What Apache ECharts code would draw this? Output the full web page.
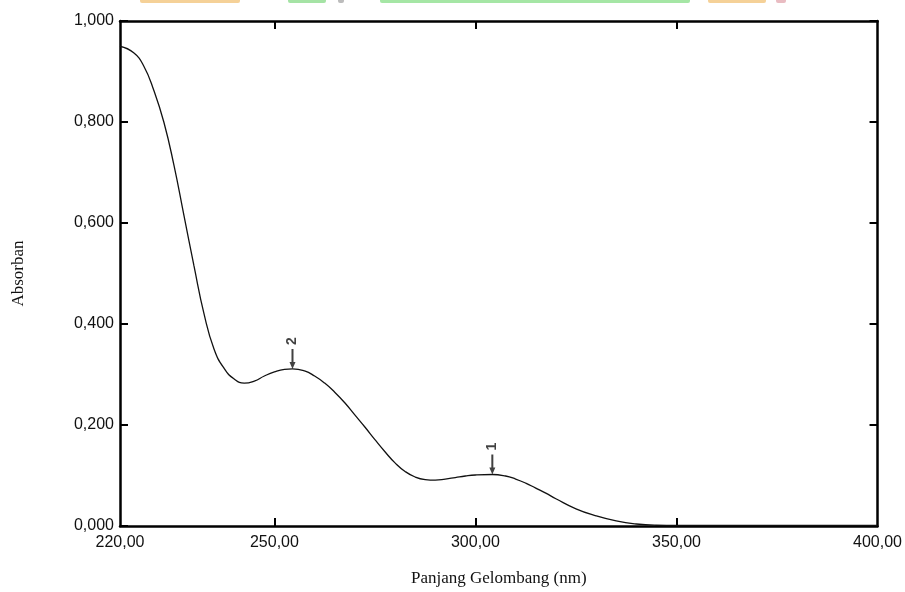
<!DOCTYPE html>
<html>
<head>
<meta charset="utf-8">
<script src="https://cdn.jsdelivr.net/npm/echarts@6/dist/echarts.min.js"></script>
<style>
  html, body { margin: 0; padding: 0; background: #fff; }
  #chart { width: 905px; height: 592px; }
</style>
</head>
<body>
<div id="chart"></div>
<script>
// UV-Vis absorption spectrum: wavelength (nm) vs absorbance
const wavelength = [211.6, 215, 217.5, 220, 222.5, 225, 227.5, 230, 232.5, 235,
  237.5, 240, 242.5, 245, 247.5, 250, 252.5, 254.5, 257.5, 260,
  262.5, 265, 267.5, 270, 272.5, 275, 277.5, 280, 282.5, 285,
  287.5, 290, 292.5, 295, 297.5, 300, 304.2, 307.5, 310, 312.5,
  315, 317.5, 320, 325, 330, 335, 340, 345, 350, 360, 380, 400];
const absorbance = [0.950, 0.937, 0.911, 0.863, 0.800, 0.715, 0.615, 0.515, 0.420, 0.350,
  0.312, 0.291, 0.283, 0.287, 0.297, 0.305, 0.310, 0.311, 0.307, 0.297,
  0.283, 0.265, 0.244, 0.220, 0.196, 0.171, 0.147, 0.125, 0.108, 0.097,
  0.092, 0.091, 0.093, 0.096, 0.099, 0.101, 0.102, 0.099, 0.093, 0.085,
  0.075, 0.065, 0.054, 0.034, 0.020, 0.010, 0.004, 0.0015, 0.001, 0.001, 0.001, 0.001];

// Detected peaks (numbered as by the instrument software)
const peakNames = ['1', '2'];
const peakWavelength = [304.2, 254.5];
const peakAbsorbance = [0.102, 0.311];

// Axis ticks and their printed labels
const xMin = 211.6, xMax = 400;
const xTickValues = [250, 300, 350];
const xLabelValues = [211.6, 250, 300, 350, 400];
const xLabelTexts = ['220,00', '250,00', '300,00', '350,00', '400,00'];
const yTickStep = 0.2;

const chart = echarts.init(document.getElementById('chart'), null, { renderer: 'canvas' });

const frameLine = { show: true, onZero: false, lineStyle: { color: '#000', width: 2.5 } };
const innerTick = { show: true, inside: true, length: 8, lineStyle: { color: '#000', width: 2 } };
const tickFont = { fontFamily: 'Liberation Sans, Arial, sans-serif', fontSize: 16, color: '#111' };
const titleFont = { fontFamily: 'Liberation Serif, Times New Roman, serif', fontSize: 17, color: '#111' };

chart.setOption({
  animation: false,
  backgroundColor: '#fff',
  grid: { left: 120, right: 24, top: 21, bottom: 66, containLabel: false },
  xAxis: [
    {
      type: 'value', min: xMin, max: xMax, position: 'bottom',
      name: 'Panjang Gelombang (nm)', nameLocation: 'middle', nameGap: 44,
      nameTextStyle: titleFont,
      axisLine: frameLine,
      axisTick: Object.assign({}, innerTick, { customValues: xTickValues }),
      axisLabel: Object.assign({}, tickFont, {
        customValues: xLabelValues, margin: 9, showMinLabel: true, showMaxLabel: true,
        formatter: v => xLabelTexts[xLabelValues.indexOf(v)] || ''
      }),
      splitLine: { show: false }
    },
    {
      type: 'value', min: xMin, max: xMax, position: 'top',
      axisLine: frameLine,
      axisTick: Object.assign({}, innerTick, { customValues: xTickValues }),
      axisLabel: { show: false },
      splitLine: { show: false }
    }
  ],
  yAxis: [
    {
      type: 'value', min: 0, max: 1, interval: yTickStep, position: 'left',
      name: 'Absorban', nameLocation: 'middle', nameGap: 93, nameRotate: 90,
      nameTextStyle: titleFont,
      axisLine: frameLine,
      axisTick: innerTick,
      axisLabel: Object.assign({}, tickFont, { margin: 6, formatter: v => v.toFixed(3).replace('.', ',') }),
      splitLine: { show: false }
    },
    {
      type: 'value', min: 0, max: 1, interval: yTickStep, position: 'right',
      axisLine: frameLine,
      axisTick: innerTick,
      axisLabel: { show: false },
      splitLine: { show: false }
    }
  ],
  graphic: [
    // faint coloured strip along the top edge
    { type: 'rect', shape: { x: 140, y: -2, width: 100, height: 5, r: 2 }, style: { fill: '#f3c67e', opacity: 0.8 }, silent: true },
    { type: 'rect', shape: { x: 288, y: -2, width: 38, height: 5, r: 2 }, style: { fill: '#8fdc8f', opacity: 0.8 }, silent: true },
    { type: 'rect', shape: { x: 338, y: -2, width: 6, height: 5, r: 2 }, style: { fill: '#a0a0a0', opacity: 0.7 }, silent: true },
    { type: 'rect', shape: { x: 380, y: -2, width: 310, height: 5, r: 2 }, style: { fill: '#8fe08f', opacity: 0.8 }, silent: true },
    { type: 'rect', shape: { x: 708, y: -2, width: 58, height: 5, r: 2 }, style: { fill: '#f3c67e', opacity: 0.8 }, silent: true },
    { type: 'rect', shape: { x: 776, y: -2, width: 10, height: 5, r: 2 }, style: { fill: '#e0a0a8', opacity: 0.7 }, silent: true }
  ],
  series: [
    {
      type: 'line',
      data: wavelength.map((w, i) => [w, absorbance[i]]),
      smooth: 0.5,
      showSymbol: false,
      lineStyle: { color: '#111', width: 1.3 },
      silent: true
    },
    {
      type: 'scatter',
      data: peakWavelength.map((w, i) => ({ value: [w, peakAbsorbance[i]], name: peakNames[i] })),
      symbol: 'path://M2,0 L4,0 L4,13 L6,13 L3,20 L0,13 L2,13 Z',
      symbolSize: [6, 20],
      symbolOffset: [0, -10],
      itemStyle: { color: '#111' },
      label: {
        show: true, position: 'top', distance: 4, rotate: 90,
        align: 'left', verticalAlign: 'middle',
        formatter: p => p.name,
        fontFamily: 'Liberation Sans, Arial, sans-serif', fontSize: 14, fontWeight: 'bold', color: '#111'
      },
      silent: true,
      z: 5
    }
  ]
});
</script>
</body>
</html>
